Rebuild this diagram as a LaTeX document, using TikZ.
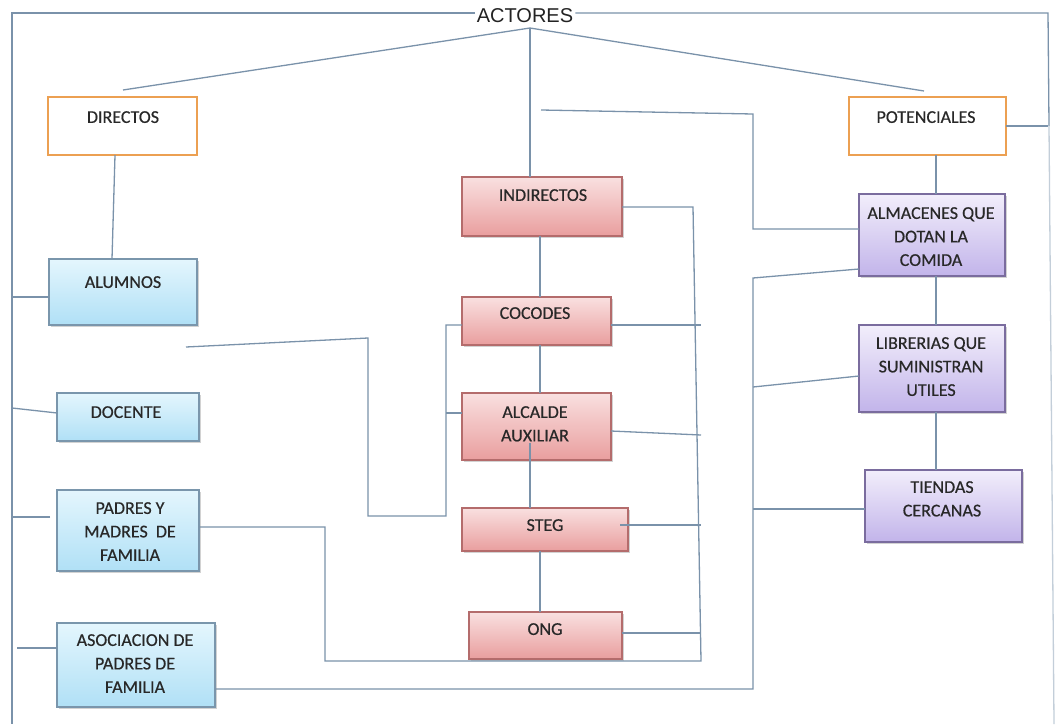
\documentclass[tikz,border=0pt]{standalone}
\usepackage{fontspec}
\setmainfont{Carlito}
\newfontfamily\boxfont[FakeBold=0.5]{Carlito}
\newfontfamily\arialf{Liberation Sans}
\usetikzlibrary{shadows}
\definecolor{lc}{RGB}{122,146,170}
\definecolor{txtc}{RGB}{40,40,40}
\definecolor{actc}{RGB}{35,35,35}
\definecolor{orng}{RGB}{236,160,82}
\definecolor{btop}{RGB}{228,246,253}
\definecolor{bbot}{RGB}{176,224,246}
\definecolor{bdraw}{RGB}{122,150,172}
\definecolor{ptop}{RGB}{249,224,224}
\definecolor{pbot}{RGB}{233,158,158}
\definecolor{pdraw}{RGB}{180,108,108}
\definecolor{ltop}{RGB}{242,238,251}
\definecolor{lbot}{RGB}{194,180,234}
\definecolor{ldraw}{RGB}{122,108,158}
\begin{document}
\begin{tikzpicture}[x=1pt,y=-1pt,
  box/.style={anchor=north west, inner sep=0pt, outer sep=0pt, line width=1.2pt},
  shbox/.style={box, drop shadow={shadow xshift=1.5pt, shadow yshift=-1.8pt, opacity=0.35}},
  obox/.style={box, draw=orng, fill=white, line width=1.8pt},
  bbox/.style={shbox, draw=bdraw, top color=btop, bottom color=bbot},
  pbox/.style={shbox, draw=pdraw, top color=ptop, bottom color=pbot},
  lbox/.style={shbox, draw=ldraw, top color=ltop, bottom color=lbot},
  txt/.style={anchor=north, inner sep=0pt, align=center, text=txtc, font=\boxfont\fontsize{18}{23.5}\selectfont},
  conn/.style={draw=lc, line width=1.3pt}]
\useasboundingbox (0,0) rectangle (1056,726);
\fill[white] (0,0) rectangle (1056,726);

% boxes
\node[obox, minimum width=149pt, minimum height=58pt] (directos) at (48,97) {};
\node[obox, minimum width=157pt, minimum height=58pt] (potenciales) at (849,97) {};
\node[bbox, minimum width=148pt, minimum height=66pt] (alumnos) at (49,259) {};
\node[bbox, minimum width=142pt, minimum height=48pt] (docente) at (57,393) {};
\node[bbox, minimum width=142pt, minimum height=81pt] (padres) at (57,490) {};
\node[bbox, minimum width=158pt, minimum height=84pt] (asociacion) at (57,623) {};
\node[pbox, minimum width=160pt, minimum height=59pt] (indirectos) at (462,177) {};
\node[pbox, minimum width=149pt, minimum height=48pt] (cocodes) at (462,297) {};
\node[pbox, minimum width=149pt, minimum height=67pt] (alcalde) at (462,393) {};
\node[pbox, minimum width=166pt, minimum height=43pt] (steg) at (462,508) {};
\node[pbox, minimum width=153pt, minimum height=47pt] (ong) at (469,612) {};
\node[lbox, minimum width=146pt, minimum height=82pt] (almacenes) at (859,194) {};
\node[lbox, minimum width=146pt, minimum height=87pt] (librerias) at (859,325) {};
\node[lbox, minimum width=157pt, minimum height=72pt] (tiendas) at (865,470) {};

% texts
\node[txt] (directosT) at (123,111) {DIRECTOS};
\node[txt] (potencialesT) at (926,111) {POTENCIALES};
\node[txt] (alumnosT) at (123,276) {ALUMNOS};
\node[txt] (docenteT) at (126,406) {DOCENTE};
\node[txt] (padresT) at (130,502) {PADRES Y\\MADRES\ \ DE\\FAMILIA};
\node[txt] (asociacionT) at (135,634) {ASOCIACION DE\\PADRES DE\\FAMILIA};
\node[txt] (indirectosT) at (543,189) {INDIRECTOS};
\node[txt] (cocodesT) at (535,307) {COCODES};
\node[txt] (alcaldeT) at (535,406) {ALCALDE\\AUXILIAR};
\node[txt] (stegT) at (545,519) {STEG};
\node[txt] (ongT) at (545,623) {ONG};
\node[txt] (almacenesT) at (931,207) {ALMACENES QUE\\DOTAN LA\\COMIDA};
\node[txt] (libreriasT) at (931,337) {LIBRERIAS QUE\\SUMINISTRAN\\UTILES};
\node[txt] (tiendasT) at (942,481) {TIENDAS\\CERCANAS};

\node[font=\arialf\fontsize{20}{24}\selectfont, inner sep=2pt, text=actc] (actores) at (525,15.5) {ACTORES};

% frame
\coordinate (ftl) at (12,13);
\coordinate (fbl) at (12,724);
\coordinate (ftr) at (1048,13);
\coordinate (fmr) at (1049,126);
\coordinate (fbr) at (1054,724);
\draw[conn] (actores.west |- ftl) -- (ftl) -- (fbl);
\draw[conn] (actores.east |- ftr) -- (ftr) -- (fmr);
\draw[conn, draw=lc!45] (fmr) -- (fbr);

% from ACTORES
\coordinate (hub) at (530,28);
\coordinate (dtop) at (123,90);
\coordinate (ptopc) at (924,91);
\draw[conn] (hub) -- (dtop);
\draw[conn] (hub) -- (ptopc);
\draw[conn] (hub) -- (hub |- indirectos.north);

% left column
\draw[conn] ([xshift=-7.5pt]directos.south) -- ([xshift=-11pt]alumnos.north);
\draw[conn] ([yshift=-5pt]alumnos.west) -- ([yshift=-5pt]alumnos.west -| ftl);
\draw[conn] ([yshift=4pt]docente.west) -- ([yshift=9pt]docente.west -| ftl);
\draw[conn] ([shift={(-7pt,13.5pt)}]padres.west) -- ([yshift=13.5pt]padres.west -| ftl);
\draw[conn] ([yshift=17pt]asociacion.west) -- ([shift={(-40pt,17pt)}]asociacion.west);

% right column
\draw[conn] (potenciales.east) -- (potenciales.east -| ftr);
\draw[conn] ([xshift=8.5pt]potenciales.south) -- ([xshift=4pt]almacenes.north);
\draw[conn] ([xshift=4pt]almacenes.south) -- ([xshift=4pt]librerias.north);
\draw[conn] ([xshift=4pt]librerias.south) -- ([xshift=-7.5pt]tiendas.north);

% trunk at x=753
\coordinate (trkTop) at (753,278);
\coordinate (trkB) at (753,387);
\draw[conn] ([yshift=-24pt]asociacion.east) -| (trkTop) -- ([yshift=-34pt]almacenes.west);
\draw[conn] (trkB) -- ([yshift=-7.5pt]librerias.west);
\draw[conn] ([yshift=-3pt]tiendas.west -| trkTop) -- ([yshift=-3pt]tiendas.west);

% long line to ALMACENES
\coordinate (lfree) at (541,110);
\coordinate (lcorner) at (753,114);
\draw[conn] (lfree) -- (lcorner) |- ([yshift=6pt]almacenes.west);

% INDIRECTOS right loop to PADRES
\coordinate (irc) at (693,207);
\coordinate (ibot) at (701,661);
\coordinate (pcorner) at (325,661);
\draw[conn] (indirectos.east |- irc) -- (irc) -- (ibot) -- (pcorner) |- ([yshift=3.5pt]padres.east);

% right stubs
\draw[conn] ([yshift=-4pt]cocodes.east) -- ([yshift=-4pt]cocodes.east -| ibot);
\draw[conn] ([yshift=-4.5pt]alcalde.east) -- ([yshift=-8.5pt]alcalde.east -| ibot);
\draw[conn] ([shift={(-8pt,4.5pt)}]steg.east) -- ([yshift=4.5pt]steg.east -| ibot);
\draw[conn] ([yshift=2.5pt]ong.east) -- ([yshift=2.5pt]ong.east -| ibot);

% spine
\draw[conn] ([xshift=-2pt]indirectos.south) -- ([xshift=3.5pt]cocodes.north);
\draw[conn] ([xshift=3.5pt]cocodes.south) -- ([xshift=3.5pt]alcalde.north);
\draw[conn] ([shift={(-6.5pt,17pt)}]alcalde.south) -- ([xshift=-15pt]steg.north);
\draw[conn] ([xshift=-5pt]steg.south) -- ([xshift=-5.5pt]ong.north);

% left bracket
\coordinate (brT) at (446,325);
\coordinate (brM) at (446,413);
\coordinate (brB) at (446,516);
\coordinate (brL) at (368,516);
\coordinate (brLT) at (368,338);
\coordinate (brEnd) at (186,347);
\draw[conn] (brEnd) -- (brLT) -- (brL) -- (brB) -- (brT) -- ([yshift=-4pt]cocodes.west);
\draw[conn] (brM) -- (alcalde.west |- brM);
\end{tikzpicture}
\end{document}
